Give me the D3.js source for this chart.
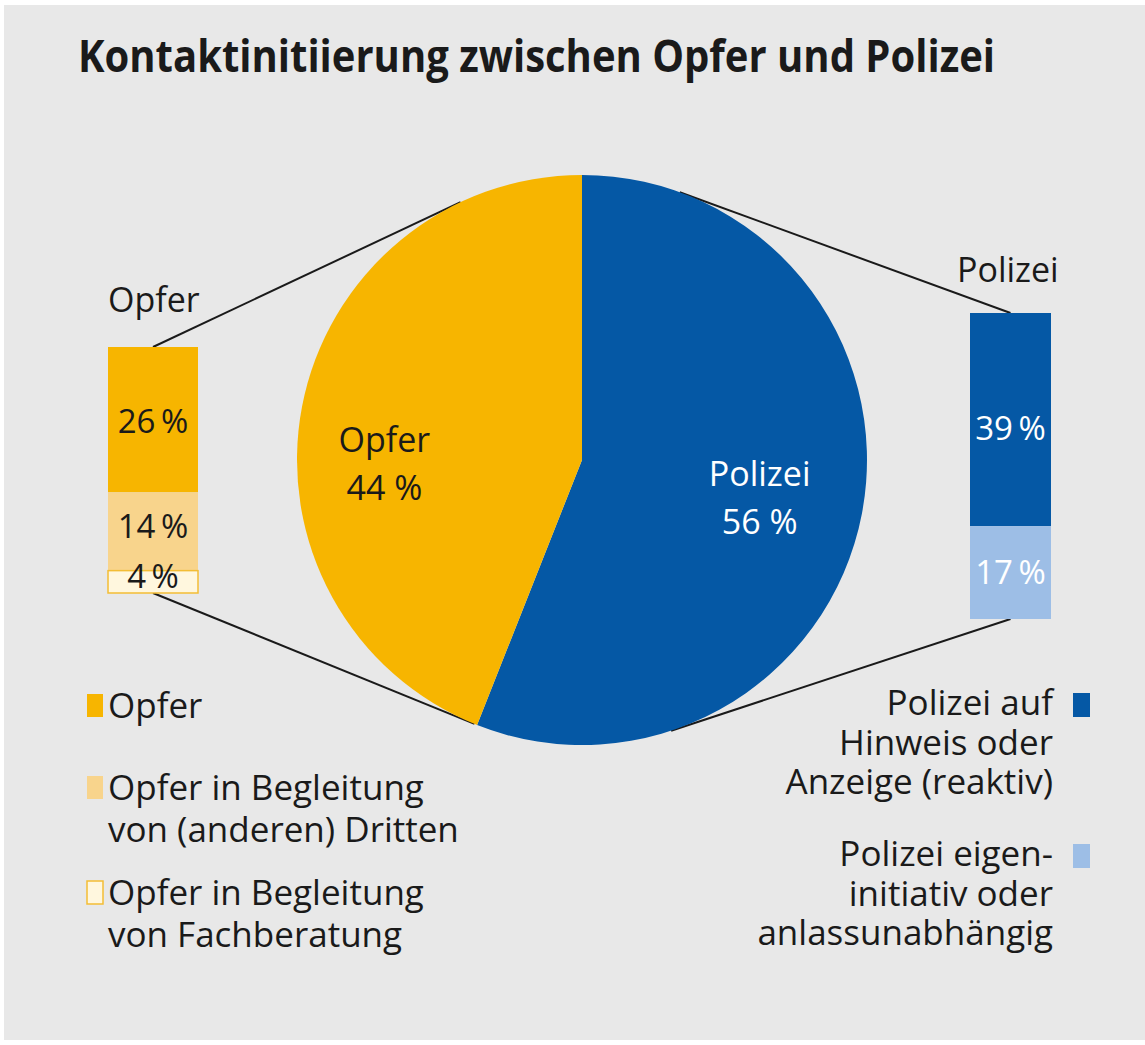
<!DOCTYPE html>
<html>
<head>
<meta charset="utf-8">
<script src="https://cdn.jsdelivr.net/npm/d3@7"></script>
<style>
  html, body { margin: 0; padding: 0; background: #fff; }
  svg { display: block; }
  text { font-family: "Open Sans", "Noto Sans", sans-serif; fill: #1a1a1a; }
</style>
</head>
<body>
<script>
// data
var pieCats = ["Polizei", "Opfer"];
var pieValues = [56, 44];
var pieLabels = ["56 %", "44 %"];

var opferCats = ["Opfer", "Opfer in Begleitung von (anderen) Dritten", "Opfer in Begleitung von Fachberatung"];
var opferValues = [26, 14, 4];
var opferLabels = ["26\u2009%", "14\u2009%", "4\u2009%"];

var polizeiCats = ["Polizei auf Hinweis oder Anzeige (reaktiv)", "Polizei eigeninitiativ oder anlassunabhängig"];
var polizeiValues = [39, 17];
var polizeiLabels = ["39\u2009%", "17\u2009%"];

var opferLegend = [["Opfer"], ["Opfer in Begleitung", "von (anderen) Dritten"], ["Opfer in Begleitung", "von Fachberatung"]];
var polizeiLegend = [["Polizei auf", "Hinweis oder", "Anzeige (reaktiv)"], ["Polizei eigen-", "initiativ oder", "anlassunabhängig"]];

var title = "Kontaktinitiierung zwischen Opfer und Polizei";

// colours
var pieColor = d3.scaleOrdinal().domain(pieCats).range(["#0558a5", "#f7b500"]);
var opferColor = ["#f7b500", "#f8d48c", "#fff7de"];
var polizeiColor = ["#0558a5", "#9dbee6"];

var W = 1145, H = 1045;
var svg = d3.select("body").append("svg").attr("width", W).attr("height", H);

svg.append("rect").attr("x", 4).attr("y", 5).attr("width", W - 4).attr("height", H - 10)
   .attr("fill", "#e8e8e8");

svg.append("text")
   .attr("x", 78).attr("y", 72)
   .attr("textLength", 917).attr("lengthAdjust", "spacingAndGlyphs")
   .style("font-size", "44px").style("font-weight", "bold")
   .text(title);

// pie geometry
var cx = 582, cy = 460, R = 285;

// bar scales
var yOpfer = d3.scaleLinear().domain([0, d3.sum(opferValues)]).range([347, 593]);
var yPolizei = d3.scaleLinear().domain([0, d3.sum(polizeiValues)]).range([313, 619]);
var opferX = 108, opferW = 90, polizeiX = 970, polizeiW = 81;

function stack(values) {
  var acc = 0;
  return values.map(function(v, i) { var s = acc; acc += v; return { i: i, v: v, y0: s, y1: acc }; });
}

// tangent point from P to the pie circle
function tangent(px, py, upper) {
  var dx = px - cx, dy = py - cy;
  var d = Math.sqrt(dx * dx + dy * dy);
  var th = Math.atan2(dy, dx), a = Math.acos(R / d);
  var p1 = [cx + R * Math.cos(th + a), cy + R * Math.sin(th + a)];
  var p2 = [cx + R * Math.cos(th - a), cy + R * Math.sin(th - a)];
  if (upper) return p1[1] < p2[1] ? p1 : p2;
  return p1[1] > p2[1] ? p1 : p2;
}

var ends = [
  [opferX + opferW / 2, yOpfer.range()[0], true],
  [opferX + opferW / 2, yOpfer.range()[1], false],
  [polizeiX + polizeiW / 2, yPolizei.range()[0], true],
  [polizeiX + polizeiW / 2, yPolizei.range()[1], false]
];
svg.selectAll(".conn").data(ends).enter().append("line")
   .attr("class", "conn")
   .attr("x1", function(d) { return d[0]; }).attr("y1", function(d) { return d[1]; })
   .attr("x2", function(d) { return tangent(d[0], d[1], d[2])[0]; })
   .attr("y2", function(d) { return tangent(d[0], d[1], d[2])[1]; })
   .attr("stroke", "#1a1a1a").attr("stroke-width", 2);

// pie
var pie = d3.pie().sort(null).value(function(d) { return d; });
var arcs = pie(pieValues);
var arc = d3.arc().innerRadius(0).outerRadius(R);
var labelArc = d3.arc().innerRadius(190).outerRadius(190);
var g = svg.append("g").attr("transform", "translate(" + cx + "," + cy + ")");
g.selectAll("path").data(arcs).enter().append("path")
 .attr("d", arc)
 .attr("fill", function(d, i) { return pieColor(pieCats[i]); });

var labelShift = [[-9, 0], [-11, 38]];
var pl = g.selectAll(".plab").data(arcs).enter().append("text")
 .attr("class", "plab")
 .attr("text-anchor", "middle")
 .attr("transform", function(d, i) {
   var c = labelArc.centroid(d);
   return "translate(" + (c[0] + labelShift[i][0]) + "," + (c[1] + labelShift[i][1]) + ")";
 })
 .style("font-size", "34px")
 .style("fill", function(d, i) { return i === 0 ? "#fff" : "#1a1a1a"; });
pl.append("tspan").attr("x", 0).attr("y", -10).text(function(d, i) { return pieCats[i]; });
pl.append("tspan").attr("x", 0).attr("y", 38).text(function(d, i) { return pieLabels[i]; });

// left bar
var opferStack = stack(opferValues);
svg.selectAll(".obar").data(opferStack).enter().append("rect")
   .attr("class", "obar")
   .attr("x", opferX).attr("width", opferW)
   .attr("y", function(d) { return yOpfer(d.y0); })
   .attr("height", function(d) { return yOpfer(d.y1) - yOpfer(d.y0); })
   .attr("fill", function(d) { return opferColor[d.i]; })
   .attr("stroke", function(d) { return d.i === 2 ? "#f3bd35" : "none"; })
   .attr("stroke-width", 1.5);
var opferBase = [433, 538, 588];
svg.selectAll(".olab").data(opferStack).enter().append("text")
   .attr("class", "olab")
   .attr("x", opferX + opferW / 2)
   .attr("y", function(d) { return opferBase[d.i]; })
   .attr("text-anchor", "middle")
   .style("font-size", "33px")
   .text(function(d) { return opferLabels[d.i]; });
svg.append("text").attr("x", opferX).attr("y", 312).style("font-size", "34px").text("Opfer");

// right bar
var polizeiStack = stack(polizeiValues);
svg.selectAll(".pbar").data(polizeiStack).enter().append("rect")
   .attr("class", "pbar")
   .attr("x", polizeiX).attr("width", polizeiW)
   .attr("y", function(d) { return yPolizei(d.y0); })
   .attr("height", function(d) { return yPolizei(d.y1) - yPolizei(d.y0); })
   .attr("fill", function(d) { return polizeiColor[d.i]; });
var polizeiBase = [440, 584];
svg.selectAll(".plab2").data(polizeiStack).enter().append("text")
   .attr("class", "plab2")
   .attr("x", polizeiX + polizeiW / 2)
   .attr("y", function(d) { return polizeiBase[d.i]; })
   .attr("text-anchor", "middle")
   .style("font-size", "33px").style("fill", "#fff")
   .text(function(d) { return polizeiLabels[d.i]; });
svg.append("text").attr("x", 957).attr("y", 282).style("font-size", "34px").text("Polizei");

// left legend
var leftBase = [[718], [800, 842], [905, 947]];
opferLegend.forEach(function(lines, i) {
  svg.append("rect")
     .attr("x", 87).attr("y", leftBase[i][0] - 24).attr("width", 16).attr("height", 23)
     .attr("fill", opferColor[i])
     .attr("stroke", i === 2 ? "#f3bd35" : "none").attr("stroke-width", 1.5);
  lines.forEach(function(t, j) {
    svg.append("text").attr("x", 108).attr("y", leftBase[i][j])
       .style("font-size", "35px").text(t);
  });
});

// right legend
var rightBase = [[715, 755, 794], [866, 906, 945]];
polizeiLegend.forEach(function(lines, i) {
  svg.append("rect")
     .attr("x", 1073).attr("y", rightBase[i][0] - 22).attr("width", 17).attr("height", 24)
     .attr("fill", polizeiColor[i]);
  lines.forEach(function(t, j) {
    svg.append("text").attr("x", 1053).attr("y", rightBase[i][j])
       .attr("text-anchor", "end")
       .style("font-size", "35px").text(t);
  });
});
</script>
</body>
</html>
